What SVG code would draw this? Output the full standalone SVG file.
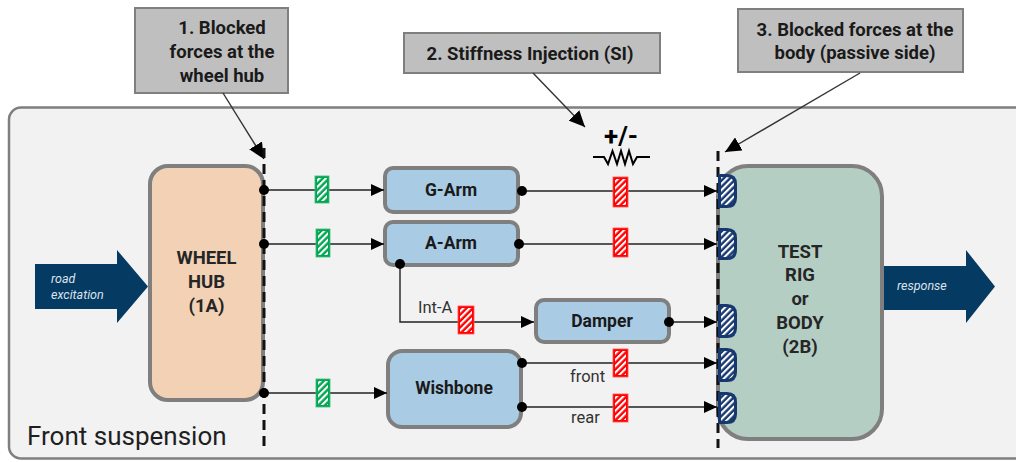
<svg xmlns="http://www.w3.org/2000/svg" width="1016" height="462" viewBox="0 0 1016 462">
  <defs>
    <style>
      .callout { fill: #bfbfbf; stroke: #7f7f7f; stroke-width: 2; }
      .ctext { font-family: Roboto, "Liberation Sans", sans-serif; font-weight: bold; font-size: 18.5px; fill: #1a1a1a; text-anchor: middle; }
      .node { stroke: #7f7f7f; stroke-width: 4; }
      .arm { fill: #a9cbe4; }
      .ntext { font-family: Roboto, "Liberation Sans", sans-serif; font-weight: bold; font-size: 17.5px; fill: #1a1a1a; text-anchor: middle; }
      .btext { font-family: Roboto, "Liberation Sans", sans-serif; font-weight: bold; font-size: 18.5px; fill: #262626; text-anchor: middle; }
      .label { font-family: Roboto, "Liberation Sans", sans-serif; font-size: 16.5px; fill: #333333; }
      .itext { font-family: Roboto, "Liberation Sans", sans-serif; font-style: italic; font-size: 12.5px; fill: #dce3ec; }
      .wire { fill: none; stroke: #222222; stroke-width: 1.4; }
      .pointer { fill: none; stroke: #333333; stroke-width: 1.4; }
      .cut { fill: none; stroke: #111111; stroke-width: 3; stroke-dasharray: 10 6; }
      .dot { fill: #000000; }
      .green { fill: #00a651; stroke: #3dbb78; stroke-width: 0.8; }
      .red { fill: #ff0000; stroke: #ff5050; stroke-width: 0.8; }
      .navy { fill: #17386f; }
      .stripes { fill: url(#hatch); }
      .bigarrow { fill: #053a63; }
    </style>
    <pattern id="hatch" patternUnits="userSpaceOnUse" width="4.5" height="4.5" patternTransform="rotate(45)">
      <rect x="0" y="0" width="2.1" height="4.5" fill="#ffffff"/>
    </pattern>
    <marker id="head" markerUnits="userSpaceOnUse" markerWidth="13" markerHeight="12" refX="13" refY="6" orient="auto">
      <path d="M0,0 L13,6 L0,12 Z" fill="#000000"/>
    </marker>
    <marker id="bighead" markerUnits="userSpaceOnUse" markerWidth="16" markerHeight="15" refX="16" refY="7.5" orient="auto">
      <path d="M0,0 L16,7.5 L0,15 Z" fill="#000000"/>
    </marker>
  </defs>

  <!-- front suspension panel -->
  <g id="panel">
    <rect x="9" y="107.5" width="1030" height="351" rx="12" fill="#f2f2f2" stroke="#7f7f7f" stroke-width="2.5"/>
    <text x="27" y="445" font-family="Roboto, 'Liberation Sans', sans-serif" font-size="26" fill="#1f1f1f">Front suspension</text>
  </g>

  <!-- callout boxes -->
  <g id="callout-1">
    <rect class="callout" x="135" y="8" width="153" height="85"/>
    <text class="ctext" x="222" y="34">1. Blocked</text>
    <text class="ctext" x="222" y="58">forces at the</text>
    <text class="ctext" x="222" y="82">wheel hub</text>
  </g>
  <g id="callout-2">
    <rect class="callout" x="404" y="33" width="256" height="40"/>
    <text class="ctext" x="530" y="60">2. Stiffness Injection (SI)</text>
  </g>
  <g id="callout-3">
    <rect class="callout" x="738" y="9" width="225" height="63"/>
    <text class="ctext" x="855" y="36">3. Blocked forces at the</text>
    <text class="ctext" x="855" y="59">body (passive side)</text>
  </g>

  <!-- stiffness injection symbol -->
  <g id="si-symbol">
    <text x="621" y="145" font-family="Roboto, 'Liberation Sans', sans-serif" font-weight="bold" font-size="26" fill="#000000" text-anchor="middle">+/-</text>
    <path d="M593,157 H604 L608,164 L612.5,151 L617,164 L621,151 L625,164 L629,151 L633,164 L637,157 H650" fill="none" stroke="#000000" stroke-width="2"/>
  </g>

  <!-- input / output arrows -->
  <g id="road-excitation">
    <polygon class="bigarrow" points="35,264 117,264 117,250 148,286.5 117,323 117,309 35,309"/>
    <text class="itext" x="51" y="283">road</text>
    <text class="itext" x="51" y="299">excitation</text>
  </g>
  <g id="response">
    <polygon class="bigarrow" points="881,266 966,266 966,250 995,286.5 966,323 966,310 881,310"/>
    <text class="itext" x="897" y="290">response</text>
  </g>

  <!-- nodes -->
  <g id="wheel-hub">
    <rect class="node" x="150" y="166" width="113" height="234" rx="18" fill="#f3d1b5"/>
    <text class="btext" x="206.5" y="264">WHEEL</text>
    <text class="btext" x="206.5" y="288">HUB</text>
    <text class="btext" x="206.5" y="312">(1A)</text>
  </g>
  <g id="test-rig">
    <rect class="node" x="718" y="166" width="164" height="273" rx="30" fill="#b5cec4"/>
    <text class="btext" x="800" y="258">TEST</text>
    <text class="btext" x="800" y="281">RIG</text>
    <text class="btext" x="800" y="305">or</text>
    <text class="btext" x="800" y="329">BODY</text>
    <text class="btext" x="800" y="353">(2B)</text>
  </g>
  <g id="g-arm">
    <rect class="node arm" x="385" y="168" width="133" height="44" rx="8"/>
    <text class="ntext" x="451" y="196">G-Arm</text>
  </g>
  <g id="a-arm">
    <rect class="node arm" x="385" y="222" width="133" height="43" rx="8"/>
    <text class="ntext" x="451" y="249">A-Arm</text>
  </g>
  <g id="damper">
    <rect class="node arm" x="536" y="300" width="133" height="42" rx="8"/>
    <text class="ntext" x="602" y="327">Damper</text>
  </g>
  <g id="wishbone">
    <rect class="node arm" x="388" y="351" width="133" height="76" rx="14"/>
    <text class="ntext" x="454" y="394">Wishbone</text>
  </g>

  <!-- connectors -->
  <g id="connectors">
    <!-- callout pointers -->
    <line class="pointer" x1="223" y1="93" x2="264" y2="159" marker-end="url(#bighead)"/>
    <line class="pointer" x1="533" y1="73" x2="585" y2="127" marker-end="url(#bighead)"/>
    <line class="pointer" x1="860" y1="73" x2="725" y2="152" marker-end="url(#bighead)"/>

    <!-- wheel hub to arms -->
    <line class="wire" x1="264" y1="190" x2="384" y2="190" marker-end="url(#head)"/>
    <line class="wire" x1="264" y1="244" x2="384" y2="244" marker-end="url(#head)"/>
    <line class="wire" x1="264" y1="393" x2="387" y2="393" marker-end="url(#head)"/>

    <!-- arms to body -->
    <line class="wire" x1="522" y1="191" x2="717" y2="191" marker-end="url(#head)"/>
    <line class="wire" x1="519" y1="244" x2="717" y2="244" marker-end="url(#head)"/>
    <polyline class="wire" points="400,264 400,322 534,322" marker-end="url(#head)"/>
    <line class="wire" x1="669" y1="322" x2="717" y2="322" marker-end="url(#head)"/>
    <line class="wire" x1="522" y1="363" x2="717" y2="363" marker-end="url(#head)"/>
    <line class="wire" x1="522" y1="407" x2="717" y2="407" marker-end="url(#head)"/>

    <!-- blocked force cut lines -->
    <line class="cut" x1="264" y1="148" x2="264" y2="446"/>
    <line class="cut" x1="718" y1="151" x2="718" y2="448"/>

    <!-- joint dots -->
    <circle class="dot" cx="264" cy="190" r="5"/>
    <circle class="dot" cx="264" cy="244" r="5"/>
    <circle class="dot" cx="264" cy="393" r="5"/>
    <circle class="dot" cx="522" cy="191" r="5"/>
    <circle class="dot" cx="519" cy="244" r="5"/>
    <circle class="dot" cx="400" cy="264" r="5"/>
    <circle class="dot" cx="669" cy="322" r="5"/>
    <circle class="dot" cx="522" cy="363" r="5"/>
    <circle class="dot" cx="522" cy="407" r="5"/>

    <!-- hatched measurement markers -->
    <rect class="green" x="315" y="176" width="14" height="27"/>
    <rect class="stripes" x="317" y="178" width="10" height="23"/>
    <rect class="green" x="316" y="229" width="14" height="28"/>
    <rect class="stripes" x="318" y="231" width="10" height="24"/>
    <rect class="green" x="316" y="379" width="14" height="28"/>
    <rect class="stripes" x="318" y="381" width="10" height="24"/>

    <rect class="red" x="613" y="177" width="15" height="30"/>
    <rect class="stripes" x="615" y="179" width="11" height="26"/>
    <rect class="red" x="613" y="228" width="15" height="29"/>
    <rect class="stripes" x="615" y="230" width="11" height="25"/>
    <rect class="red" x="458" y="306" width="16" height="28"/>
    <rect class="stripes" x="460" y="308" width="12" height="24"/>
    <rect class="red" x="613" y="349" width="15" height="28"/>
    <rect class="stripes" x="615" y="351" width="11" height="24"/>
    <rect class="red" x="613" y="394" width="15" height="28"/>
    <rect class="stripes" x="615" y="396" width="11" height="24"/>

    <!-- interface pads on the body -->
    <path class="navy" d="M718,174 H727 Q737,174 737,184 V198 Q737,208 727,208 H718 Z"/>
    <path class="stripes" d="M721,177 H726 Q734,177 734,185 V197 Q734,205 726,205 H721 Z"/>
    <path class="navy" d="M718,228 H727 Q737,228 737,238 V250 Q737,260 727,260 H718 Z"/>
    <path class="stripes" d="M721,231 H726 Q734,231 734,239 V249 Q734,257 726,257 H721 Z"/>
    <path class="navy" d="M718,304 H727 Q737,304 737,314 V328 Q737,338 727,338 H718 Z"/>
    <path class="stripes" d="M721,307 H726 Q734,307 734,315 V327 Q734,335 726,335 H721 Z"/>
    <path class="navy" d="M718,348 H727 Q737,348 737,358 V372 Q737,382 727,382 H718 Z"/>
    <path class="stripes" d="M721,351 H726 Q734,351 734,359 V371 Q734,379 726,379 H721 Z"/>
    <path class="navy" d="M718,392 H727 Q737,392 737,402 V414 Q737,424 727,424 H718 Z"/>
    <path class="stripes" d="M721,395 H726 Q734,395 734,403 V413 Q734,421 726,421 H721 Z"/>

    <!-- connector labels -->
    <text class="label" x="418" y="313">Int-A</text>
    <text class="label" x="570" y="382">front</text>
    <text class="label" x="571" y="423">rear</text>
  </g>
</svg>
